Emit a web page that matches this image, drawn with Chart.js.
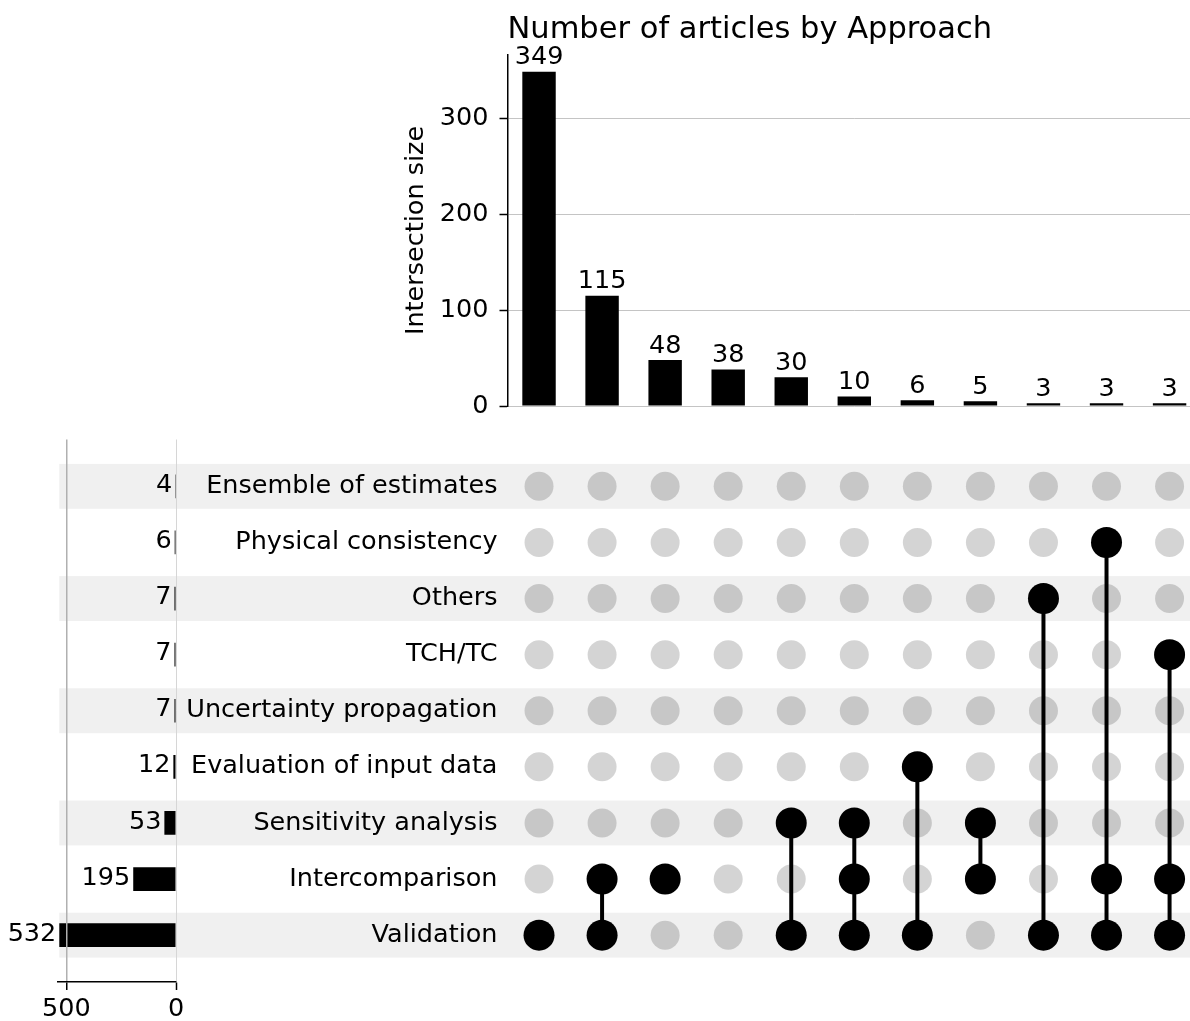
<!DOCTYPE html>
<html><head><meta charset="utf-8">
<script src="https://cdn.jsdelivr.net/npm/chart.js@4.4.1/dist/chart.umd.min.js"></script>
<style>
html,body{margin:0;padding:0;background:#fff;overflow:hidden;}
#wrap{position:relative;width:1190px;height:1021px;overflow:hidden;background:#fff;}
canvas{position:absolute;left:0;top:0;}
</style></head><body>
<div id="wrap">
<canvas id="matrix" width="1202" height="1021"></canvas>
<canvas id="totals" width="1202" height="1021"></canvas>
<canvas id="inter" width="1202" height="1021"></canvas>
</div>
<script>
// ---- data ----
const chartTitle = 'Number of articles by Approach';
const sizeAxisTitle = 'Intersection size';
const setNames = ['Ensemble of estimates','Physical consistency','Others','TCH/TC','Uncertainty propagation','Evaluation of input data','Sensitivity analysis','Intercomparison','Validation'];
const setTotals = [4, 6, 7, 7, 7, 12, 53, 195, 532];
const intersectionSizes = [349, 115, 48, 38, 30, 10, 6, 5, 3, 3, 3];
const intersectionMembers = [
  ['Validation'],
  ['Intercomparison','Validation'],
  ['Intercomparison'],
  [],
  ['Sensitivity analysis','Validation'],
  ['Sensitivity analysis','Intercomparison','Validation'],
  ['Evaluation of input data','Validation'],
  ['Sensitivity analysis','Intercomparison'],
  ['Others','Validation'],
  ['Physical consistency','Intercomparison','Validation'],
  ['TCH/TC','Intercomparison','Validation']
];
const sizeTicks = [0, 100, 200, 300];
const totalTicks = [500, 0];

// ---- layout / style ----
const FONT = "'DejaVu Sans', sans-serif";
const FS = 25.5, TFS = 30.5;
Chart.defaults.font.family = FONT;
Chart.defaults.font.size = FS;
Chart.defaults.color = '#000';
Chart.defaults.animation = false;
Chart.defaults.responsive = false;
Chart.defaults.devicePixelRatio = 1;
Chart.defaults.plugins.legend.display = false;
Chart.defaults.plugins.tooltip.enabled = false;

const W = 1202, H = 1021;
const AREA_L = 507.5, AREA_R = 1201.1;
const TOP_B = 406;
const ROW_T = 439.5, ROW_B = 982;
const LEFT_L = 57.5, LEFT_R = 176;
const BAND_X = 59.3;

// ---- top intersection-size bars ----
const barLabels = {id:'barLabels', afterDatasetsDraw(chart){
  const ctx = chart.ctx, meta = chart.getDatasetMeta(0), data = chart.data.datasets[0].data;
  ctx.save(); ctx.font = FS + 'px ' + FONT; ctx.fillStyle = '#000';
  ctx.textAlign = 'center'; ctx.textBaseline = 'alphabetic';
  meta.data.forEach((el, i) => ctx.fillText(String(data[i]), el.x, el.y - 7.4));
  ctx.restore();
}};

new Chart(document.getElementById('inter'), {
  type: 'bar',
  data: {labels: intersectionSizes.map((_, i) => String(i)),
    datasets: [{data: intersectionSizes, backgroundColor: '#000', borderWidth: 0, barPercentage: 0.53, categoryPercentage: 1}]},
  options: {
    layout: {autoPadding: false, padding: {left: 400, right: W - AREA_R, top: 0, bottom: H - TOP_B}},
    plugins: {title: {display: true, text: chartTitle, align: 'start', fullSize: false, color: '#000',
      font: {size: TFS, weight: 'normal'}, padding: {top: 11.4, bottom: 7.0}}},
    scales: {
      x: {display: false},
      y: {min: 0, max: 366.45,
        afterBuildTicks: s => { s.ticks = sizeTicks.map(v => ({value: v})); },
        afterFit: s => { s.width = AREA_L - 400; },
        ticks: {padding: 11, color: '#000', font: {size: FS}},
        grid: {color: '#c4c4c4', lineWidth: 1, tickColor: '#000', tickLength: 8, tickWidth: 1.5},
        border: {display: true, color: '#000', width: 1.5},
        title: {display: true, text: sizeAxisTitle, color: '#000', font: {size: FS}, padding: {top: 1.0, bottom: 0}}}
    }
  },
  plugins: [barLabels]
});

// ---- matrix ----
const inactivePts = [], activePts = [], lineSets = [];
intersectionMembers.forEach((m, c) => {
  const idx = m.map(n => setNames.indexOf(n));
  setNames.forEach((n, r) => (idx.includes(r) ? activePts : inactivePts).push({x: c, y: r}));
  if (idx.length > 1) lineSets.push({type: 'line', data: [{x: c, y: Math.min(...idx)}, {x: c, y: Math.max(...idx)}],
    borderColor: '#000', borderWidth: 4, pointRadius: 0, order: 2});
});

const bands = {id:'bands', beforeDraw(chart){
  const y = chart.scales.y, ctx = chart.ctx;
  ctx.save(); ctx.fillStyle = '#f0f0f0';
  setNames.forEach((n, i) => {
    if (i % 2 === 0) {
      const a = y.getPixelForValue(i - 0.4), b = y.getPixelForValue(i + 0.4);
      ctx.fillRect(BAND_X, Math.min(a, b), chart.width - BAND_X, Math.abs(b - a));
    }
  });
  ctx.restore();
}};

new Chart(document.getElementById('matrix'), {
  type: 'scatter',
  data: {datasets: [
    {data: inactivePts, backgroundColor: 'rgba(0,0,0,0.17)', pointRadius: 14.5, borderWidth: 0, order: 3},
    ...lineSets,
    {data: activePts, backgroundColor: '#000', pointRadius: 15.5, borderWidth: 0, order: 1}
  ]},
  options: {
    layout: {autoPadding: false, padding: {left: 0, right: W - AREA_R, top: ROW_T, bottom: H - ROW_B}},
    scales: {
      x: {type: 'linear', display: false, min: -0.5, max: 10.5},
      y: {type: 'linear', reverse: true, min: -0.835, max: 8.835,
        afterBuildTicks: s => { s.ticks = setNames.map((_, i) => ({value: i})); },
        afterFit: s => { s.width = AREA_L; },
        ticks: {padding: 10, color: '#000', font: {size: FS}, callback: v => setNames[v]},
        grid: {display: false, drawTicks: false},
        border: {display: false}}
    }
  },
  plugins: [bands]
});

// ---- left set totals ----
const totalLabels = {id:'totalLabels', afterDatasetsDraw(chart){
  const ctx = chart.ctx, meta = chart.getDatasetMeta(0);
  ctx.save(); ctx.font = FS + 'px ' + FONT; ctx.fillStyle = '#000';
  ctx.textAlign = 'right'; ctx.textBaseline = 'middle';
  meta.data.forEach((el, i) => ctx.fillText(String(setTotals[i]), el.x - 3, el.y - 1));
  ctx.restore();
}};

new Chart(document.getElementById('totals'), {
  type: 'bar',
  data: {datasets: [{data: setTotals.map((v, i) => ({x: v, y: i})), backgroundColor: '#000', borderWidth: 0,
    barPercentage: 0.505, categoryPercentage: 1}]},
  options: {
    indexAxis: 'y',
    layout: {autoPadding: false, padding: {left: LEFT_L, right: W - LEFT_R, top: ROW_T, bottom: 0}},
    scales: {
      x: {type: 'linear', reverse: true, min: 0, max: (LEFT_R - LEFT_L) / ((LEFT_R - BAND_X) / 532),
        afterBuildTicks: s => { s.ticks = totalTicks.map(v => ({value: v})); },
        afterFit: s => { s.height = H - ROW_B; },
        ticks: {padding: 4, maxRotation: 0, autoSkip: false, color: '#000', font: {size: FS}},
        grid: {z: 1, color: c => (c.tick && c.tick.value === 0) ? '#d6d6d6' : '#b0b0b0',
          lineWidth: c => (c.tick && c.tick.value === 0) ? 1 : 1.5,
          tickColor: '#000', tickLength: 8, tickWidth: 1.5},
        border: {display: true, color: '#000', width: 1.5, z: 2}},
      y: {type: 'linear', display: false, reverse: true, offset: false, grid: {offset: false},
        min: -0.835, max: 8.835}
    }
  },
  plugins: [totalLabels]
});
</script>
</body></html>
